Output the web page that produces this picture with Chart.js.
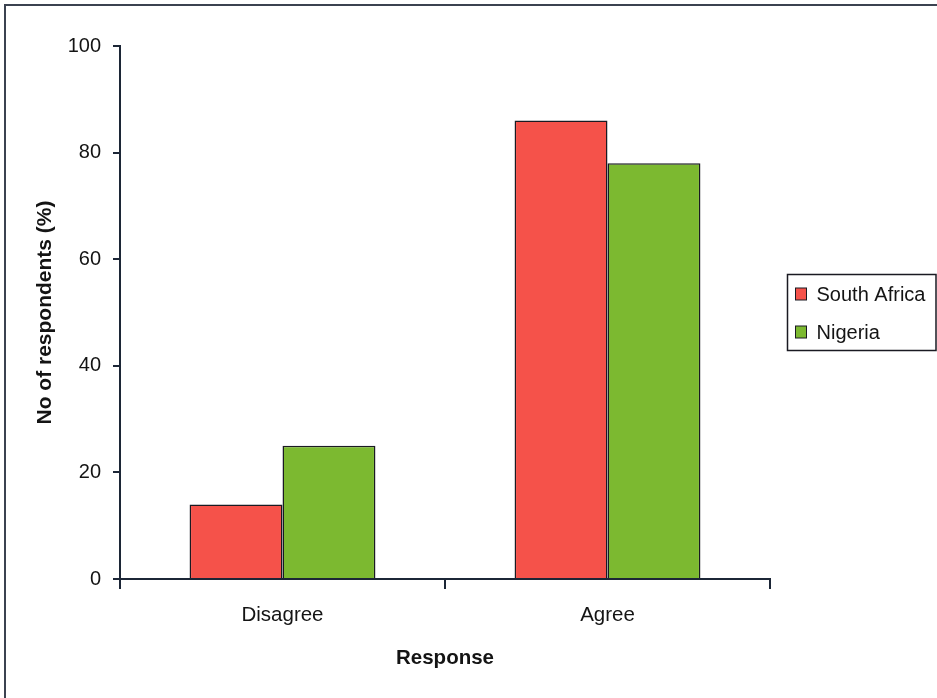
<!DOCTYPE html>
<html>
<head>
<meta charset="utf-8">
<script src="https://cdn.jsdelivr.net/npm/chart.js@4.4.1/dist/chart.umd.min.js"></script>
<style>
  html, body { margin: 0; padding: 0; background: #ffffff; }
  #wrap { width: 937px; height: 698px; }
</style>
</head>
<body>
<div id="wrap"><canvas id="chart" width="937" height="698"></canvas></div>
<script>
// Survey responses, percentage of respondents per country
const categories = ['Disagree', 'Agree'];
const southAfrica = [14, 86];
const nigeria = [25, 78];
const seriesNames = ['South Africa', 'Nigeria'];
const yMin = 0, yMax = 100, yStep = 20;

const FONT = '"Liberation Sans", Arial, sans-serif';
const INK = '#1c2636';
const TEXT = '#141414';
const RED = '#f5524a';
const GREEN = '#7cb930';

// White page with a thin frame around the figure
const framePlugin = {
  id: 'frame',
  beforeDraw(chart) {
    const ctx = chart.ctx;
    ctx.save();
    ctx.fillStyle = '#ffffff';
    ctx.fillRect(0, 0, chart.width, chart.height);
    ctx.strokeStyle = '#3b4250';
    ctx.lineWidth = 2;
    ctx.strokeRect(5, 5, chart.width + 10, chart.height + 10);
    ctx.restore();
  }
};

// Boxed legend to the right of the plot area
const boxLegend = {
  id: 'boxLegend',
  afterDraw(chart) {
    const ctx = chart.ctx;
    const area = chart.chartArea;
    const x0 = area.right + 17.5, y0 = 274.5, w = 148.5, h = 76;
    ctx.save();
    ctx.strokeStyle = '#1a1a22';
    ctx.lineWidth = 1.5;
    ctx.strokeRect(x0, y0, w, h);
    ctx.font = '20px ' + FONT;
    ctx.textBaseline = 'middle';
    chart.data.datasets.forEach((ds, i) => {
      const cy = y0 + 19.5 + i * 38;
      ctx.fillStyle = ds.backgroundColor;
      ctx.fillRect(x0 + 8, cy - 6, 11, 12);
      ctx.strokeStyle = '#1a1a22';
      ctx.lineWidth = 1;
      ctx.strokeRect(x0 + 8, cy - 6, 11, 12);
      ctx.fillStyle = TEXT;
      ctx.fillText(ds.label, x0 + 29, cy + 1);
    });
    ctx.restore();
  }
};

new Chart(document.getElementById('chart'), {
  type: 'bar',
  data: {
    labels: categories,
    datasets: [
      { label: seriesNames[0], data: southAfrica, backgroundColor: RED,
        borderColor: '#1a1a22', borderWidth: 1.5 },
      { label: seriesNames[1], data: nigeria, backgroundColor: GREEN,
        borderColor: '#1a1a22', borderWidth: 1.5 }
    ]
  },
  options: {
    responsive: false,
    animation: false,
    devicePixelRatio: 1,
    layout: { padding: { left: 0, right: 167, top: 46, bottom: 0 } },
    datasets: { bar: { categoryPercentage: 0.572, barPercentage: 1.0 } },
    plugins: {
      legend: { display: false },
      tooltip: { enabled: false }
    },
    scales: {
      x: {
        afterFit(scale) { scale.height = 119; },
        grid: {
          display: true, offset: true, drawOnChartArea: false,
          drawTicks: true, tickLength: 10, color: INK, lineWidth: 2
        },
        border: { display: true, color: INK, width: 2 },
        ticks: { color: TEXT, font: { family: FONT, size: 20.5 }, padding: 14 },
        title: {
          display: true, text: 'Response', color: TEXT,
          font: { family: FONT, size: 20.5, weight: 'bold' },
          padding: { top: 0, bottom: 27 }
        }
      },
      y: {
        min: yMin, max: yMax,
        afterFit(scale) { scale.width = 120; },
        grid: {
          display: true, drawOnChartArea: false,
          drawTicks: true, tickLength: 7, color: INK, lineWidth: 2
        },
        border: { display: true, color: INK, width: 2 },
        ticks: { stepSize: yStep, color: TEXT, font: { family: FONT, size: 20 }, padding: 12 },
        title: {
          display: true, text: 'No of respondents (%)', color: TEXT,
          font: { family: FONT, size: 21, weight: 'bold' },
          padding: { top: 33, bottom: 0 }
        }
      }
    }
  },
  plugins: [framePlugin, boxLegend]
});
</script>
</body>
</html>
